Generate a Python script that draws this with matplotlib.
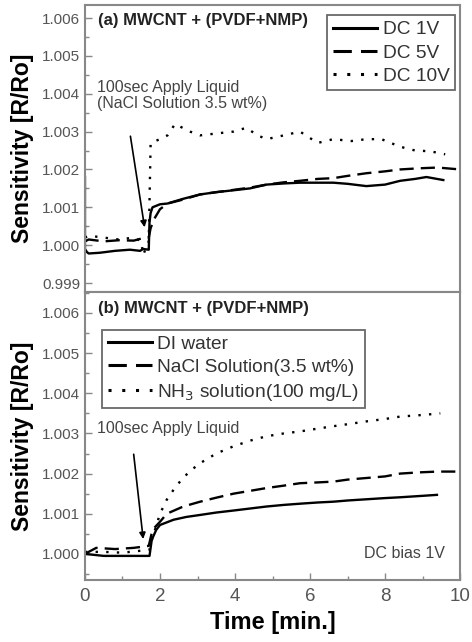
import numpy as np
import matplotlib.pyplot as plt
from matplotlib.ticker import MultipleLocator, FormatStrFormatter

plt.rcParams['font.family'] = ['Liberation Sans', 'DejaVu Sans']

# ---- panel (a): applied voltage, NaCl 3.5 wt% ----
t_1v = [0.0, 0.0, 0.05, 0.1, 0.4, 0.8, 1.2, 1.47, 1.55, 1.7, 1.72, 1.75, 1.8, 2.0, 2.2,
        2.6, 3.07, 3.5, 3.96, 4.4, 4.84, 5.3, 5.73, 6.2, 6.62, 7.0, 7.5, 8.0, 8.4, 8.8,
        9.1, 9.55]
s_1v = [1.0018, 0.9999, 0.99982, 0.99978, 0.99980, 0.99985, 0.99988, 0.99985, 0.9999,
        0.99988, 1.0006, 1.00085, 1.001, 1.00108, 1.0011, 1.00122, 1.00134, 1.0014,
        1.00145, 1.0015, 1.0016, 1.00163, 1.00165, 1.00165, 1.00165, 1.00162, 1.00156,
        1.0016, 1.0017, 1.00175, 1.0018, 1.00172]

t_5v = [0.0, 0.1, 0.5, 0.9, 1.3, 1.6, 1.7, 1.75, 1.85, 2.0, 2.2, 2.6, 3.07, 3.5, 3.96,
        4.4, 4.84, 5.3, 5.73, 6.2, 6.62, 7.0, 7.5, 8.0, 8.4, 8.9, 9.4, 10.0]
s_5v = [1.0001, 1.00015, 1.0001, 1.00013, 1.00012, 1.0002, 1.0002, 1.00045, 1.0007,
        1.00095, 1.0011, 1.0012, 1.00134, 1.0014, 1.00146, 1.00152, 1.0016, 1.00166,
        1.0017, 1.00175, 1.00177, 1.00183, 1.0019, 1.00195, 1.002, 1.00203, 1.00205, 1.002]

t_10v = [0.0, 0.1, 0.5, 0.9, 1.3, 1.5, 1.55, 1.7, 1.75, 2.0, 2.2, 2.4, 2.6, 2.8, 3.07,
         3.5, 3.96, 4.3, 4.6, 4.84, 5.3, 5.73, 6.2, 6.62, 7.1, 7.5, 7.9, 8.4, 8.8, 9.2, 9.6]
s_10v = [1.0002, 1.00025, 1.0002, 1.00015, 1.0002, 1.0001, 0.99974, 1.0001, 1.0027,
         1.0028, 1.0029, 1.0032, 1.0031, 1.0030, 1.0029, 1.00295, 1.0030, 1.0031, 1.0029,
         1.0028, 1.0029, 1.0030, 1.0027, 1.0028, 1.00275, 1.0028, 1.0028, 1.0026,
         1.0025, 1.00248, 1.0024]

# ---- panel (b): liquids at DC bias 1V ----
t_di = [0.0, 0.5, 1.0, 1.5, 1.72, 1.78, 1.9, 2.0, 2.36, 2.7, 3.07, 3.5, 3.96, 4.4, 4.84,
        5.3, 5.73, 6.2, 6.62, 7.0, 7.5, 8.0, 8.4, 8.9, 9.38]
s_di = [1.0000, 0.99995, 0.99995, 0.99995, 0.99995, 1.00035, 1.0006, 1.00072, 1.00085,
        1.00092, 1.00097, 1.00103, 1.00108, 1.00113, 1.00118, 1.00122, 1.00125, 1.00128,
        1.0013, 1.00133, 1.00136, 1.00139, 1.00141, 1.00144, 1.00147]

t_nacl = [0.0, 0.3, 0.8, 1.3, 1.7, 1.8, 2.0, 2.18, 2.62, 3.07, 3.5, 3.96, 4.4, 4.84,
          5.3, 5.73, 6.2, 6.62, 7.0, 7.5, 8.0, 8.4, 8.9, 9.4, 10.0]
s_nacl = [1.0000, 1.00015, 1.00012, 1.00015, 1.0002, 1.0006, 1.0008, 1.001, 1.00118,
          1.0013, 1.0014, 1.0015, 1.00157, 1.00164, 1.0017, 1.00176, 1.00178, 1.0018,
          1.00185, 1.00189, 1.00193, 1.002, 1.00203, 1.00205, 1.00205]

t_nh3 = [0.0, 0.5, 1.0, 1.5, 1.72, 1.8, 2.0, 2.18, 2.4, 2.62, 2.85, 3.07, 3.5, 3.96,
         4.4, 4.84, 5.3, 5.73, 6.2, 6.62, 7.0, 7.5, 8.0, 8.4, 9.0, 9.47]
s_nh3 = [1.00005, 1.00005, 1.00003, 1.00008, 1.0001, 1.0004, 1.001, 1.00135, 1.00165,
         1.0019, 1.0021, 1.00226, 1.0025, 1.00268, 1.00282, 1.00293, 1.003, 1.00305,
         1.00312, 1.00318, 1.00323, 1.0033, 1.00336, 1.00342, 1.00346, 1.0035]

spine_col = '#888888'
tick_col = '#555555'

fig = plt.figure(figsize=(4.72, 6.42), dpi=100)
ax1 = fig.add_axes([0.180, 0.545, 0.795, 0.447])
ax2 = fig.add_axes([0.180, 0.0966, 0.795, 0.4484])

dot_style = (0, (1, 3.5))
dash_style = (0, (6, 3))

ax1.plot(t_1v, s_1v, color='black', lw=1.7, label='DC 1V')
ax1.plot(t_5v, s_5v, color='black', lw=1.7, ls=dash_style, label='DC 5V')
ax1.plot(t_10v, s_10v, color='black', lw=1.7, ls=dot_style, label='DC 10V')

ax2.plot(t_di, s_di, color='black', lw=1.7, label='DI water')
ax2.plot(t_nacl, s_nacl, color='black', lw=1.7, ls=dash_style, label='NaCl Solution(3.5 wt%)')
ax2.plot(t_nh3, s_nh3, color='black', lw=1.7, ls=dot_style, label='NH$_3$ solution(100 mg/L)')

ax1.set_ylim(0.99876, 1.00634)
ax2.set_ylim(0.99935, 1.00652)

for ax in (ax1, ax2):
    ax.set_xlim(0, 10)
    ax.yaxis.set_major_locator(MultipleLocator(0.001))
    ax.yaxis.set_minor_locator(MultipleLocator(0.0005))
    ax.yaxis.set_major_formatter(FormatStrFormatter('%.3f'))
    ax.xaxis.set_major_locator(MultipleLocator(2))
    ax.xaxis.set_minor_locator(MultipleLocator(1))
    ax.tick_params(which='both', direction='in', colors=spine_col, labelcolor=tick_col,
                   right=False, top=False)
    ax.tick_params(which='major', length=5, width=1)
    ax.tick_params(which='minor', length=3, width=1)
    ax.tick_params(axis='y', labelsize=11)
    for s in ax.spines.values():
        s.set_color(spine_col)
        s.set_linewidth(1.5)
    ax.set_ylabel('Sensitivity [R/Ro]', fontsize=16.5, fontweight='bold', labelpad=6)

ax1.tick_params(axis='x', which='both', bottom=False, labelbottom=False)
ax2.tick_params(axis='x', labelsize=13.5, pad=6)
ax2.set_xlabel('Time [min.]', fontsize=17, fontweight='bold', labelpad=4)
ax1.yaxis.set_label_coords(-0.135, 0.5)
ax2.yaxis.set_label_coords(-0.135, 0.5)

ax1.text(0.035, 0.948, '(a) MWCNT + (PVDF+NMP)', transform=ax1.transAxes,
         fontsize=12, fontweight='bold', va='center', color='#222222')
ax2.text(0.035, 0.944, '(b) MWCNT + (PVDF+NMP)', transform=ax2.transAxes,
         fontsize=12, fontweight='bold', va='center', color='#222222')

ax1.text(0.31, 1.00395, '100sec Apply Liquid\n(NaCl Solution 3.5 wt%)', fontsize=11.5,
         color='#444444', va='center', linespacing=1.1)
ax1.annotate('', xy=(1.6, 1.0004), xytext=(1.2, 1.00295),
             arrowprops=dict(arrowstyle='-|>', color='black', lw=1.2, mutation_scale=9))

ax2.text(0.31, 1.00313, '100sec Apply Liquid', fontsize=11.5, color='#444444', va='center')
ax2.annotate('', xy=(1.56, 1.0003), xytext=(1.29, 1.00255),
             arrowprops=dict(arrowstyle='-|>', color='black', lw=1.2, mutation_scale=9))
ax2.text(9.6, 1.0, 'DC bias 1V', fontsize=11.5, color='#444444', ha='right', va='center')

leg_kw = dict(frameon=True, fancybox=False, edgecolor='#444444', handlelength=2.3,
              handletextpad=0.3, labelspacing=0.3, borderpad=0.3, borderaxespad=0.0)
leg1 = ax1.legend(loc='upper right', bbox_to_anchor=(0.987, 0.965), fontsize=13.8, **leg_kw)
leg2 = ax2.legend(loc='upper left', bbox_to_anchor=(0.045, 0.87), fontsize=13.8, **leg_kw)
for leg in (leg1, leg2):
    leg.get_frame().set_linewidth(1.3)
    for line in leg.get_lines():
        line.set_linewidth(2.2)
    for txt in leg.get_texts():
        txt.set_color('#333333')

fig.savefig('out.png', dpi=100)
